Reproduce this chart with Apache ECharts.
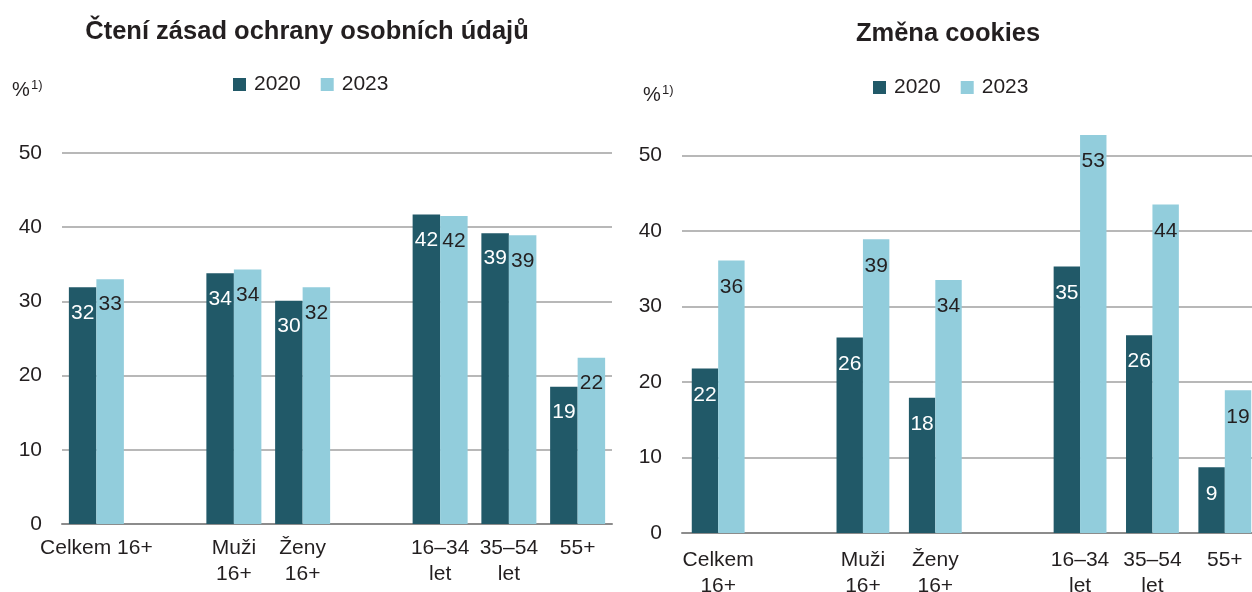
<!DOCTYPE html>
<html>
<head>
<meta charset="utf-8">
<script src="https://cdn.jsdelivr.net/npm/echarts@6/dist/echarts.min.js"></script>
<style>html,body{margin:0;padding:0;background:#fff;}#c{width:1252px;height:592px;}</style>
</head>
<body>
<div id="c"></div>
<script>
var titleLeft = 'Čtení zásad ochrany osobních údajů';
var titleRight = 'Změna cookies';
var seriesNames = ['2020', '2023'];
var catsLeft = ['Celkem 16+', '', 'Muži\n16+', 'Ženy\n16+', '', '16–34\nlet', '35–54\nlet', '55+'];
var catsRight = ['Celkem\n16+', '', 'Muži\n16+', 'Ženy\n16+', '', '16–34\nlet', '35–54\nlet', '55+'];
var left2020 = [31.9, null, 33.8, 30.1, null, 41.7, 39.2, 18.5];
var left2023 = [33.0, null, 34.3, 31.9, null, 41.5, 38.9, 22.4];
var right2020 = [21.8, null, 25.9, 17.9, null, 35.3, 26.2, 8.7];
var right2023 = [36.1, null, 38.9, 33.5, null, 52.7, 43.5, 18.9];
var yTicks = [0, 10, 20, 30, 40, 50];

var C1 = '#215968', C2 = '#92CDDC', TXT = '#231f20';
var FONT = 'Liberation Sans, Arial, sans-serif';

function mkX(idx, cats, margin) {
  return {
    type: 'category', gridIndex: idx, data: cats,
    axisTick: {show: false},
    axisLine: {show: true, lineStyle: {color: '#8c8c8c', width: 2}},
    axisLabel: {color: TXT, fontSize: 21, fontFamily: FONT, lineHeight: 26, margin: margin, interval: 0}
  };
}
function mkY(idx) {
  return {
    type: 'value', gridIndex: idx, min: yTicks[0], max: yTicks[yTicks.length - 1], interval: 10,
    axisLine: {show: false}, axisTick: {show: false},
    axisLabel: {color: TXT, fontSize: 21, fontFamily: FONT, margin: 20},
    splitLine: {lineStyle: {color: '#a0a0a0', width: 1.5}}
  };
}
function mkS(name, idx, data, color, labelColor, gap, dist) {
  return {
    name: name, type: 'bar', xAxisIndex: idx, yAxisIndex: idx, data: data,
    barGap: '0%', barCategoryGap: gap, clip: false,
    itemStyle: {color: color},
    label: {show: true, position: 'insideTop', distance: dist, color: labelColor,
      fontSize: 21, fontFamily: FONT,
      formatter: function (p) { return Math.round(p.value); }},
    emphasis: {disabled: true}
  };
}
function mkLegend(left, top) {
  return {
    data: seriesNames, left: left, top: top, itemWidth: 13, itemHeight: 13, itemGap: 20,
    icon: 'rect', textStyle: {color: TXT, fontSize: 21, fontFamily: FONT, padding: [0, 0, 0, 3]},
    selectedMode: false
  };
}

var chart = echarts.init(document.getElementById('c'));
chart.setOption({
  animation: false,
  color: [C1, C2],
  title: [
    {text: titleLeft, left: 302, top: 14, textAlign: 'center',
     textStyle: {fontSize: 25.5, fontWeight: 'bold', color: TXT, fontFamily: FONT}},
    {text: titleRight, left: 943, top: 16, textAlign: 'center',
     textStyle: {fontSize: 25.5, fontWeight: 'bold', color: TXT, fontFamily: FONT}}
  ],
  legend: [mkLegend(228, 69), mkLegend(868, 72)],
  grid: [
    {left: 62, width: 550, top: 153, bottom: 68, outerBoundsMode: 'none'},
    {left: 682, width: 579, top: 155.5, bottom: 59, outerBoundsMode: 'none'}
  ],
  xAxis: [mkX(0, catsLeft, 11), mkX(1, catsRight, 14)],
  yAxis: [mkY(0), mkY(1)],
  series: [
    mkS(seriesNames[0], 0, left2020, C1, '#ffffff', '20%', 15),
    mkS(seriesNames[1], 0, left2023, C2, TXT, '20%', 15),
    mkS(seriesNames[0], 1, right2020, C1, '#ffffff', '27%', 16),
    mkS(seriesNames[1], 1, right2023, C2, TXT, '27%', 16)
  ],
  graphic: [
    {type: 'text', left: 12, top: 80, style: {text: '%', fontSize: 20, fontFamily: FONT, fill: TXT}},
    {type: 'text', left: 31, top: 79, style: {text: '1)', fontSize: 13, fontFamily: FONT, fill: TXT}},
    {type: 'text', left: 643, top: 85, style: {text: '%', fontSize: 20, fontFamily: FONT, fill: TXT}},
    {type: 'text', left: 662, top: 84, style: {text: '1)', fontSize: 13, fontFamily: FONT, fill: TXT}}
  ]
});
</script>
</body>
</html>
